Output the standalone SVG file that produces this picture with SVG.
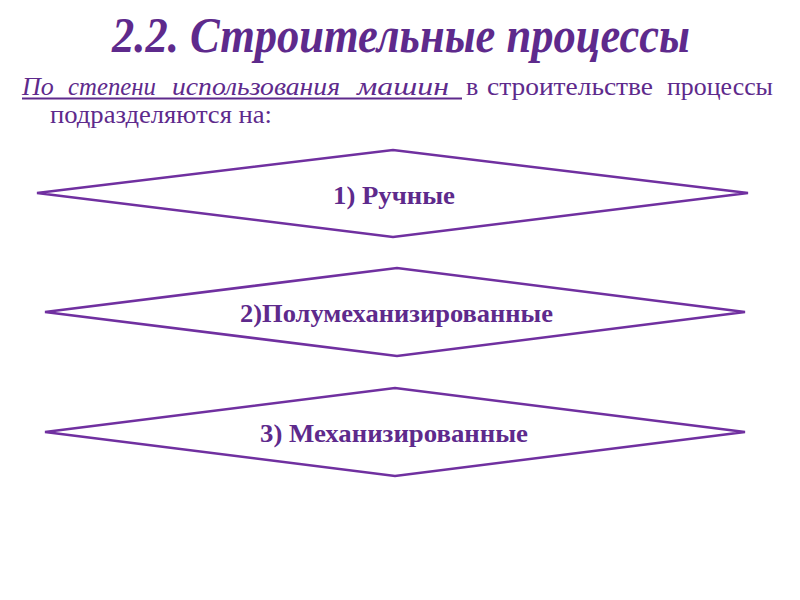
<svg xmlns="http://www.w3.org/2000/svg" width="800" height="600" viewBox="0 0 800 600">
<style>
.t{font-family:"Liberation Serif","DejaVu Serif","Times New Roman",serif;fill:#5e2a8c}
.title{font-size:50px;font-weight:bold;font-style:italic}
.it{font-size:26px;font-style:italic}
.rg{font-size:26px}
.lbl{font-size:26px;font-weight:bold}
.dia{fill:#ffffff;stroke:#7030a0;stroke-width:2.5;stroke-linejoin:miter}
</style>
<rect width="800" height="600" fill="#ffffff"/>
<text class="t title" x="112" y="52" textLength="578" lengthAdjust="spacingAndGlyphs">2.2. Строительные процессы</text>
<g id="intro">
<text class="t it" x="22" y="95">По</text>
<text class="t it" x="68" y="95" textLength="88" lengthAdjust="spacingAndGlyphs">степени</text>
<text class="t it" x="172" y="95" textLength="168" lengthAdjust="spacingAndGlyphs">использования</text>
<text class="t it" x="357" y="95" textLength="92" lengthAdjust="spacingAndGlyphs">машин</text>
<line x1="22" y1="98.5" x2="462" y2="98.5" stroke="#5e2a8c" stroke-width="2"/>
<text class="t rg" x="466" y="95">в</text>
<text class="t rg" x="487" y="95" textLength="166" lengthAdjust="spacingAndGlyphs">строительстве</text>
<text class="t rg" x="667" y="95" textLength="106" lengthAdjust="spacingAndGlyphs">процессы</text>
<text class="t rg" x="50" y="123" textLength="222" lengthAdjust="spacingAndGlyphs">подразделяются на:</text>
</g>
<g id="node1">
<polygon class="dia" points="37,193 393,150 748,193 393,237"/>
<text class="t lbl" x="333" y="204" textLength="122" lengthAdjust="spacingAndGlyphs">1) Ручные</text>
</g>
<g id="node2">
<polygon class="dia" points="45,312 397,268 745,312 397,356"/>
<text class="t lbl" x="240" y="322" textLength="313" lengthAdjust="spacingAndGlyphs">2)Полумеханизированные</text>
</g>
<g id="node3">
<polygon class="dia" points="45,432 395,388 745,432 395,476"/>
<text class="t lbl" x="260" y="442" textLength="268" lengthAdjust="spacingAndGlyphs">3) Механизированные</text>
</g>
<g id="connectors"></g>
</svg>
